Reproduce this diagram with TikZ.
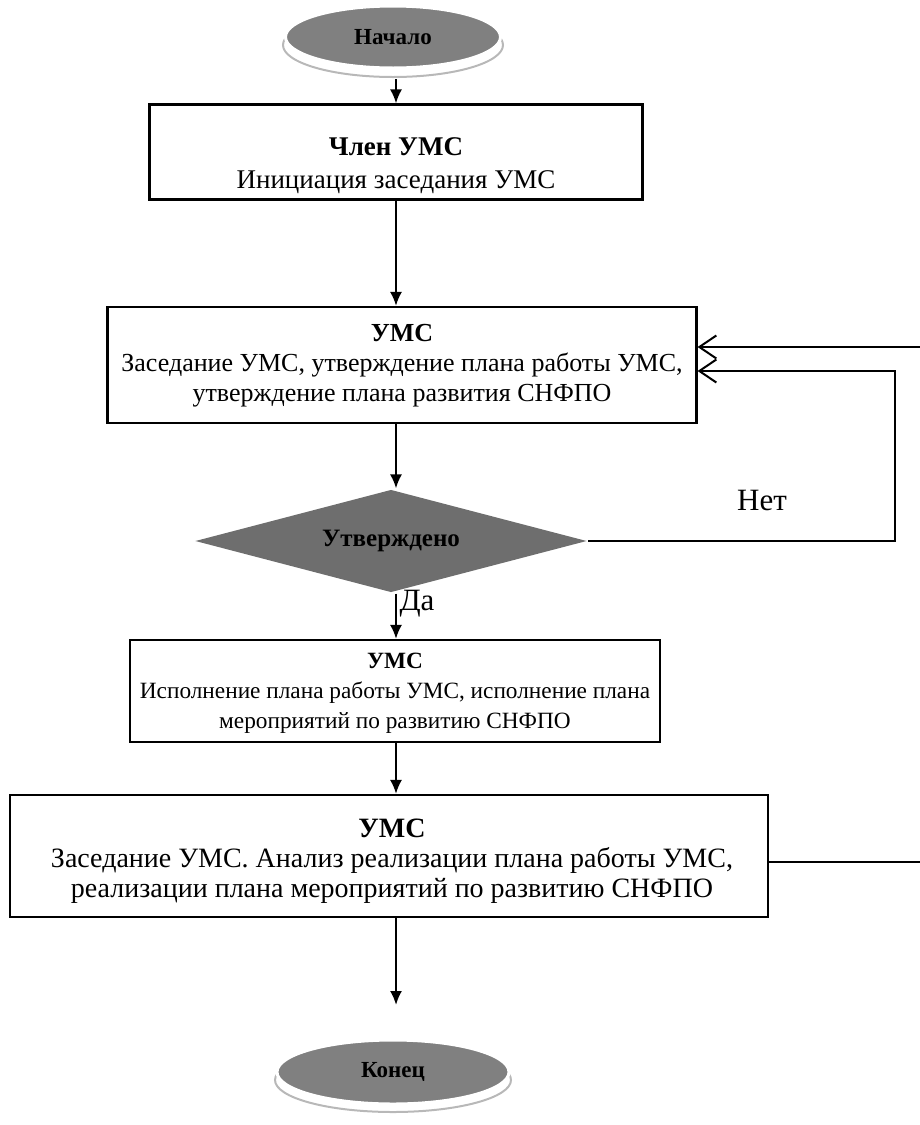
\documentclass[tikz,border=0pt]{standalone}
\usepackage{fontspec}
\setmainfont{Liberation Serif}
\usetikzlibrary{arrows.meta,shapes.geometric,calc}
\begin{document}
\begin{tikzpicture}[x=1pt,y=-1pt,
  line width=2.1pt,
  box/.style={draw,rectangle,inner sep=0pt},
  txt/.style={align=center,inner sep=0pt},
  term/.style={ellipse,fill=black!50,draw=white,line width=3pt,inner sep=0pt,font=\bfseries\fontsize{23}{28}\selectfont},
  shadow/.style={draw=black!28,line width=2pt},
  flow/.style={-{Latex[length=14pt,width=12pt]}},
  back/.style={-{Straight Barb[length=17pt,width=23pt,line width=2pt]}},
  lab/.style={font=\fontsize{31}{34}\selectfont}
]
\useasboundingbox (0,0) rectangle (920,1125);

\coordinate (ax) at (396,0);

% start
\draw[shadow] (393,45) ellipse [x radius=110, y radius=32];
\node[term,minimum width=215pt,minimum height=62pt] (start) at (393,37) {Начало};

% boxes
\node[box,minimum width=493pt,minimum height=95pt] (box1) at (396,152) {};
\node[txt,font=\fontsize{27}{33}\selectfont] (box1t) at (396,166)
  {\textbf{Член УМС}\\Инициация заседания УМС};

\node[box,minimum width=589pt,minimum height=116pt] (box2) at (402,365) {};
\node[txt,font=\fontsize{26}{30}\selectfont] (box2t) at (402,366)
  {\textbf{УМС}\\Заседание УМС, утверждение плана работы УМС,\\утверждение плана развития СНФПО};

\node[diamond,fill=black!57,minimum width=392pt,minimum height=103pt,aspect=3.8,inner sep=0pt,
  font=\bfseries\fontsize{25}{28}\selectfont] (dia) at (391,541) {Утверждено};

\node[box,minimum width=530pt,minimum height=102pt] (box3) at (395,691) {};
\node[txt,font=\fontsize{23.3}{30}\selectfont] (box3t) at (395,693)
  {\textbf{УМС}\\Исполнение плана работы УМС, исполнение плана\\мероприятий по развитию СНФПО};

\node[box,minimum width=758pt,minimum height=122pt] (box4) at (389,856) {};
\node[txt,font=\fontsize{28}{30}\selectfont] (box4t) at (392,861)
  {\textbf{УМС}\\Заседание УМС. Анализ реализации плана работы УМС,\\реализации плана мероприятий по развитию СНФПО};

% end
\draw[shadow] (393,1080) ellipse [x radius=118, y radius=32];
\node[term,minimum width=232pt,minimum height=64pt] (end) at (393,1072) {Конец};

\coordinate (s0) at (396,79);
\coordinate (e0) at (396,1005);
\coordinate (r1) at (920,347);
\coordinate (r2) at (920,862);
\coordinate (r3) at (895,371);

\draw[flow] (s0) -- (box1.north -| s0);
\draw[flow] (box1.south -| ax) -- (box2.north -| ax);
\draw[flow] (box2.south -| ax) -- (dia.north -| ax);
\draw[flow] (dia.south -| ax) -- (box3.north -| ax);
\draw[flow] (box3.south -| ax) -- (box4.north -| ax);
\draw[flow] (box4.south -| ax) -- (e0);

\draw[back] (r1) -- (r1 -| box2.east);
\draw[back] (dia.east) -| (r3) -- (r3 -| box2.east);
\draw (r2 -| box4.east) -- (r2);

\node[lab] (net) at (762,500) {Нет};
\node[lab] (da) at (417,604) {Да};
\end{tikzpicture}
\end{document}
